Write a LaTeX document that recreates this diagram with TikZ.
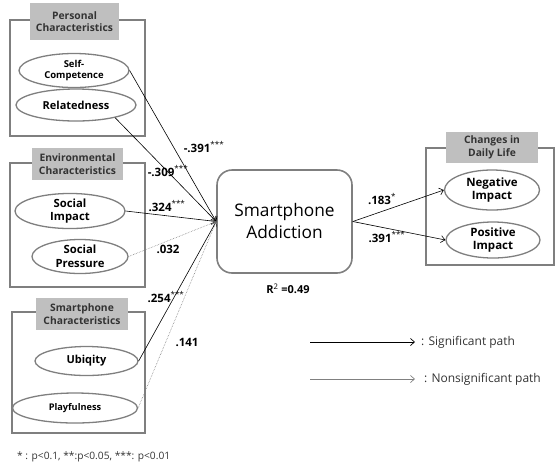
\documentclass[tikz,border=0pt]{standalone}
\usepackage{fontspec}
\setmainfont{Open Sans}
\usetikzlibrary{arrows.meta,shapes.geometric}
\definecolor{boxgray}{HTML}{7F7F7F}
\definecolor{headgray}{HTML}{BFBFBF}
\definecolor{inkgray}{HTML}{333333}

\begin{document}
\begin{tikzpicture}[x=1pt,y=-1pt,
  groupbox/.style={draw=boxgray, line width=1.6pt},
  header/.style={fill=headgray, inner sep=0pt, align=center,
    font=\bfseries\fontsize{10.3}{12.5}\selectfont, text=inkgray},
  factor/.style={ellipse, draw=boxgray, line width=1.3pt, fill=white,
    inner sep=0pt, align=center, text=black},
  coef/.style={font=\bfseries\fontsize{11.5}{13}\selectfont, inner sep=0pt},
  sig/.style={-{Straight Barb[length=4pt,width=7pt]}, line width=0.6pt, black},
  nonsig/.style={-{Straight Barb[length=4pt,width=7pt]}, line width=0.6pt, gray, densely dotted},
  legendtext/.style={anchor=west, inner sep=0pt, text=inkgray, font=\fontsize{12}{14}\selectfont},
]
\useasboundingbox (0,0) rectangle (556,467);

% ---- group frames ----
\draw[groupbox] (10,20) rectangle (145,136);
\draw[groupbox] (10,163) rectangle (145,287);
\draw[groupbox] (12,312) rectangle (145,433);
\draw[groupbox] (426,148) rectangle (554,265);

% ---- group headers ----
\node[header, minimum width=89pt, minimum height=37pt] (hpers) at (74.5,21.5) {Personal\\Characteristics};
\node[header, minimum width=91pt, minimum height=32pt] (henv) at (77.5,164) {Environmental\\Characteristics};
\node[header, minimum width=92pt, minimum height=32pt] (hsmart) at (82,314) {Smartphone\\Characteristics};
\node[header, minimum width=92pt, minimum height=31pt] (hdaily) at (492,147.5) {Changes in\\Daily Life};

% ---- latent factors ----
\node[factor, minimum width=110pt, minimum height=34pt, font=\bfseries\fontsize{9.5}{11}\selectfont] (selfc) at (74,70.5) {Self-\\Competence};
\node[factor, minimum width=120pt, minimum height=32pt, font=\bfseries\fontsize{11}{13}\selectfont] (relat) at (76,105) {Relatedness};
\node[factor, minimum width=110pt, minimum height=35pt, font=\bfseries\fontsize{11.3}{13.5}\selectfont] (socimp) at (70,211) {Social\\Impact};
\node[factor, minimum width=96pt, minimum height=34pt, font=\bfseries\fontsize{11.3}{13.5}\selectfont] (socpres) at (80,256.5) {Social\\Pressure};
\node[factor, minimum width=103pt, minimum height=29pt, font=\bfseries\fontsize{11}{13}\selectfont] (ubiq) at (86.5,361) {Ubiqity};
\node[factor, minimum width=125pt, minimum height=30pt, font=\bfseries\fontsize{9.2}{11}\selectfont] (playf) at (75,408) {Playfulness};
\node[factor, minimum width=95pt, minimum height=40pt, font=\bfseries\fontsize{11.5}{13.5}\selectfont] (neg) at (492,190) {Negative\\Impact};
\node[factor, minimum width=94pt, minimum height=36pt, font=\bfseries\fontsize{11.5}{13.5}\selectfont] (pos) at (493,240) {Positive\\Impact};

% ---- dependent construct ----
\node[draw=boxgray, line width=1.6pt, rounded corners=15pt, minimum width=135pt, minimum height=103pt,
  align=center, font=\fontsize{17.3}{22}\selectfont] (sa) at (284.5,221.5) {Smartphone\\Addiction};
\node[coef, font=\bfseries\fontsize{11}{13}\selectfont] (rsq) at (288,289) {R\textsuperscript{\mdseries 2} =0.49};

% ---- structural paths ----
\draw[sig] (selfc.east) -- (sa.west);
\draw[sig] (relat.-18) -- (sa.west);
\draw[sig] (socimp.east) -- (sa.west);
\draw[nonsig] (socpres.east) -- (sa.west);
\draw[sig] (ubiq.east) -- (sa.west);
\draw[nonsig] (playf.east) -- (sa.west);
\draw[sig] (sa.east) -- (neg.west);
\draw[sig] (sa.east) -- (pos.west);

% ---- path coefficients ----
\node[coef] (c1) at (204,147) {-.391\textsuperscript{\mdseries ***}};
\node[coef] (c2) at (168,171) {-.309\textsuperscript{\mdseries ***}};
\node[coef] (c3) at (167,206) {.324\textsuperscript{\mdseries ***}};
\node[coef] (c4) at (168,249) {.032};
\node[coef] (c5) at (166,297) {.254\textsuperscript{\mdseries ***}};
\node[coef] (c6) at (187,342) {.141};
\node[coef] (c7) at (382,199) {.183\textsuperscript{\mdseries *}};
\node[coef] (c8) at (387,237) {.391\textsuperscript{\mdseries ***}};

% ---- legend ----
\coordinate (lsa) at (310,342);
\coordinate (lsb) at (415,342);
\coordinate (lna) at (310,379);
\coordinate (lnb) at (415,379);
\draw[-{Straight Barb[length=4pt,width=7pt]}, line width=0.7pt, black] (lsa) -- (lsb);
\draw[-{Straight Barb[length=4pt,width=7pt]}, line width=0.7pt, gray] (lna) -- (lnb);
\node[legendtext] (lst) at (421,342) {: Significant path};
\node[legendtext] (lnt) at (424,379) {: Nonsignificant path};

% ---- significance note ----
\node[anchor=west, inner sep=0pt, text=inkgray, font=\fontsize{10.2}{12}\selectfont] (note) at (17,457)
  {* : p<0.1, **:p<0.05, ***: p<0.01};
\end{tikzpicture}
\end{document}
